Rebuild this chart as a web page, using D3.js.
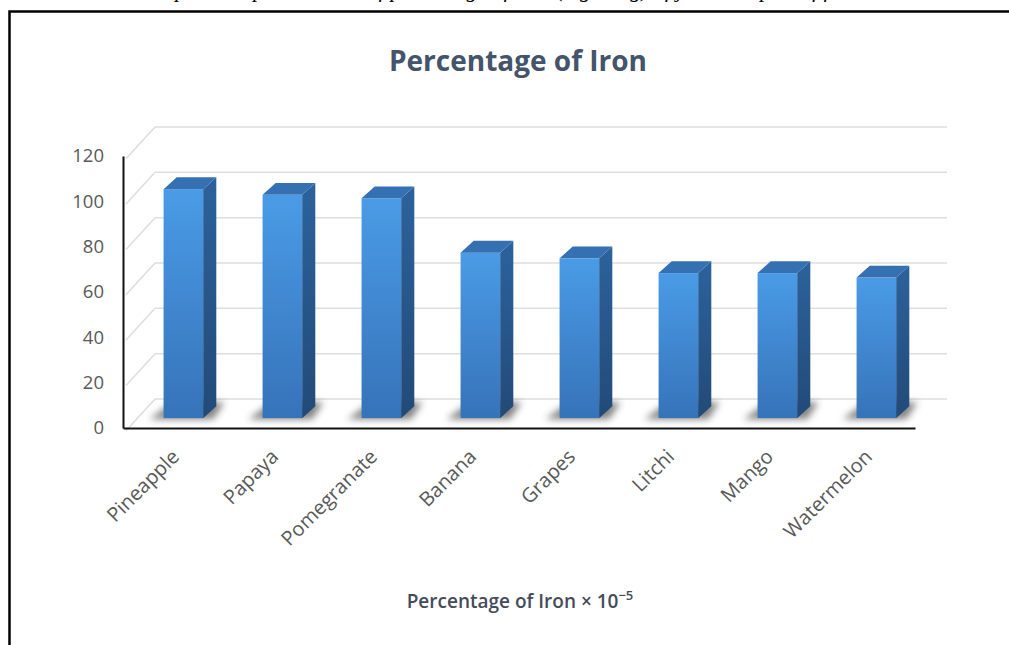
<!DOCTYPE html>
<html>
<head>
<meta charset="utf-8">
<script src="https://cdn.jsdelivr.net/npm/d3@7"></script>
<style>
  html, body { margin: 0; padding: 0; background: #fff; }
  svg { display: block; }
</style>
</head>
<body>
<svg id="chart" width="1009" height="645"></svg>
<script>
// Fruit samples and their iron content (× 10^-5 %)
const categories = ["Pineapple", "Papaya", "Pomegranate", "Banana", "Grapes", "Litchi", "Mango", "Watermelon"];
const ironValues = [101, 98.5, 97, 73, 70.5, 64, 64, 62];
const yTicks = [0, 20, 40, 60, 80, 100, 120];
const chartTitle = "Percentage of Iron";
const axisTitle = "Percentage of Iron × 10";
const axisTitleExp = "−5";
const caption = "Graphical representation of percentage of iron (mg/100g) of juice samples of fruits";

const svg = d3.select("#chart");

// Page caption (runs off the top edge) and the figure frame
svg.append("text")
  .attr("x", 505).attr("y", -3)
  .attr("text-anchor", "middle")
  .style("font-family", "'Liberation Serif', serif")
  .style("font-style", "italic")
  .style("font-size", "22px")
  .attr("fill", "#000")
  .text(caption);

svg.append("rect")
  .attr("x", 9.5).attr("y", 11.5)
  .attr("width", 1100).attr("height", 700)
  .attr("fill", "none")
  .attr("stroke", "#000")
  .attr("stroke-width", 2.5);

// Plot geometry: front plane plus a depth vector for the pseudo-3D floor and walls
const x0 = 123, x1 = 915;
const DX = 32, DY = -29;          // front-to-back offset
const d0 = 0.34, d1 = 0.75;       // depth slice occupied by each column

const x = d3.scaleBand().domain(categories).range([x0, x1]).paddingInner(0.6).paddingOuter(0.3);
const y = d3.scaleLinear().domain([0, 120]).range([428, 156]);

const defs = svg.append("defs");
const gFront = defs.append("linearGradient").attr("id", "gFront").attr("x1", 0).attr("y1", 0).attr("x2", 0).attr("y2", 1);
gFront.append("stop").attr("offset", "0%").attr("stop-color", "#4a9be6");
gFront.append("stop").attr("offset", "100%").attr("stop-color", "#3673b9");
const gSide = defs.append("linearGradient").attr("id", "gSide").attr("x1", 0).attr("y1", 0).attr("x2", 0).attr("y2", 1);
gSide.append("stop").attr("offset", "0%").attr("stop-color", "#2c629c");
gSide.append("stop").attr("offset", "100%").attr("stop-color", "#224a78");
defs.append("filter").attr("id", "soft").attr("x", "-50%").attr("y", "-50%").attr("width", "200%").attr("height", "200%")
  .append("feGaussianBlur").attr("stdDeviation", 3.5);

// Back wall gridlines and their diagonal runs along the side wall
const grid = svg.append("g").attr("stroke", "#dedede").attr("stroke-width", 1.5).attr("fill", "none");
grid.selectAll("line.back").data(yTicks).join("line").attr("class", "back")
  .attr("x1", x0 + DX).attr("x2", x1 + DX)
  .attr("y1", d => y(d) + DY).attr("y2", d => y(d) + DY);
grid.selectAll("line.side").data(yTicks).join("line").attr("class", "side")
  .attr("x1", x0 + 3).attr("x2", x0 + DX)
  .attr("y1", d => y(d) - 3 * DY / DX).attr("y2", d => y(d) + DY);

// Column geometry
function bar(d, i) {
  const v = ironValues[i];
  const xl = x(d) + d0 * DX, xr = xl + x.bandwidth();
  const yt = y(v) + d0 * DY, yb = y(0) + d0 * DY;
  const ddx = (d1 - d0) * DX, ddy = (d1 - d0) * DY;
  return { xl, xr, yt, yb, ddx, ddy };
}

const bars = svg.append("g").selectAll("g").data(categories).join("g");

// Floor shadow under each column
bars.append("path")
  .attr("d", (d, i) => {
    const b = bar(d, i);
    return `M${b.xl - 14},${b.yb + 1} L${b.xl - 4 + b.ddx},${b.yb + b.ddy - 4} L${b.xr + b.ddx + 8},${b.yb + b.ddy - 4} L${b.xr + 10},${b.yb + 1} Z`;
  })
  .attr("fill", "#333").attr("opacity", 0.6).attr("filter", "url(#soft)");

bars.append("rect")
  .attr("x", (d, i) => bar(d, i).xl)
  .attr("y", (d, i) => bar(d, i).yt)
  .attr("width", x.bandwidth())
  .attr("height", (d, i) => bar(d, i).yb - bar(d, i).yt)
  .attr("fill", "url(#gFront)");

bars.append("path")
  .attr("d", (d, i) => {
    const b = bar(d, i);
    return `M${b.xr},${b.yt} L${b.xr + b.ddx},${b.yt + b.ddy} L${b.xr + b.ddx},${b.yb + b.ddy} L${b.xr},${b.yb} Z`;
  })
  .attr("fill", "url(#gSide)");

bars.append("path")
  .attr("d", (d, i) => {
    const b = bar(d, i);
    return `M${b.xl},${b.yt} L${b.xl + b.ddx},${b.yt + b.ddy} L${b.xr + b.ddx},${b.yt + b.ddy} L${b.xr},${b.yt} Z`;
  })
  .attr("fill", "#3470b2");

// Axes
const yAxis = svg.append("g").attr("transform", `translate(${x0},0)`)
  .call(d3.axisLeft(y).tickValues(yTicks).tickSize(0).tickPadding(19));
yAxis.select(".domain").attr("stroke", "#111").attr("stroke-width", 2);
yAxis.selectAll("text")
  .style("font-family", "'Open Sans', sans-serif").style("font-size", "18.5px")
  .attr("fill", "#595959");

const xAxis = svg.append("g").attr("transform", `translate(0,${y(0)})`)
  .call(d3.axisBottom(x).tickSize(0));
xAxis.select(".domain").attr("stroke", "#111").attr("stroke-width", 2);
xAxis.selectAll("text")
  .style("font-family", "'Open Sans', sans-serif").style("font-size", "20px")
  .attr("fill", "#595959")
  .attr("text-anchor", "end")
  .attr("dy", 0).attr("y", 0)
  .attr("transform", "translate(8,30) rotate(-45)");

// Titles
svg.append("text")
  .attr("x", 518).attr("y", 71)
  .attr("text-anchor", "middle")
  .style("font-family", "'Open Sans', sans-serif").style("font-weight", "700").style("font-size", "28px")
  .attr("fill", "#44546a")
  .text(chartTitle);

const at = svg.append("text")
  .attr("x", 520).attr("y", 608)
  .attr("text-anchor", "middle")
  .style("font-family", "'Open Sans', sans-serif").style("font-weight", "600").style("font-size", "19px")
  .attr("fill", "#454c59");
at.append("tspan").text(axisTitle);
at.append("tspan").attr("dy", -8).style("font-size", "13px").text(axisTitleExp);
</script>
</body>
</html>
